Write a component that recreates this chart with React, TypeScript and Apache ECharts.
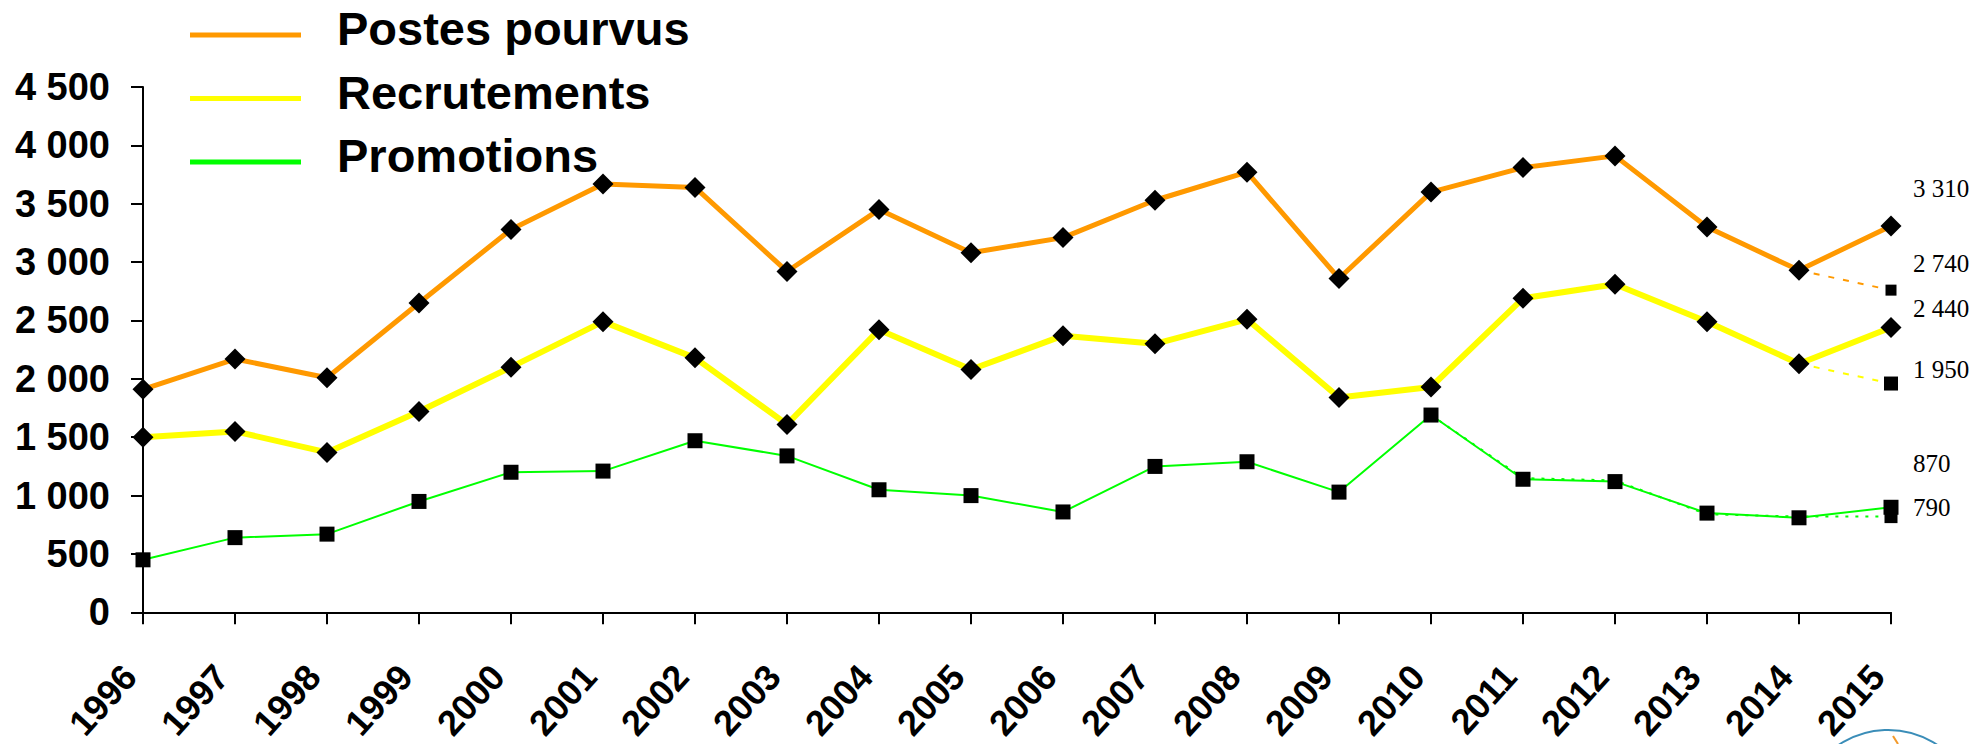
import React, { useEffect, useRef } from "react";
import * as echarts from "echarts";

const years = ["1996", "1997", "1998", "1999", "2000", "2001", "2002", "2003", "2004", "2005", "2006", "2007", "2008", "2009", "2010", "2011", "2012", "2013", "2014", "2015"];
const postesPourvus = [1910, 2170, 2010, 2650, 3280, 3670, 3640, 2920, 3450, 3080, 3210, 3530, 3770, 2860, 3600, 3810, 3910, 3300, 2930, 3310];
const recrutements = [1500, 1550, 1370, 1720, 2100, 2490, 2180, 1610, 2420, 2080, 2370, 2300, 2510, 1840, 1930, 2690, 2810, 2490, 2130, 2440];
const promotions = [450, 640, 670, 950, 1200, 1210, 1470, 1340, 1050, 1000, 860, 1250, 1290, 1030, 1690, 1140, 1120, 850, 810, 900];

const postesProjYears = ["2014", "2015"];
const postesProjValues = [2930, 2760];
const recrutProjYears = ["2014", "2015"];
const recrutProjValues = [2130, 1960];
const promoProjYears = ["2010", "2011", "2012", "2013", "2014", "2015"];
const promoProjValues = [1690, 1150, 1130, 840, 820, 820];

const legendNames = ["Postes pourvus", "Recrutements", "Promotions"];
const legendColors = ["#FF9900", "#FFFF00", "#00FF00"];
const endLabels = ["3 310", "2 740", "2 440", "1 950", "870", "790"];
const yTicks = { min: 0, max: 4500, interval: 500 };

const fmt = (v: number) =>
  v >= 1000 ? `${Math.floor(v / 1000)} ${String(v % 1000).padStart(3, "0")}` : String(v);

function projData(ys: string[], vs: number[], markerSize: number) {
  return years.map((y) => {
    const i = ys.indexOf(y);
    if (i < 0) return null;
    const last = i === ys.length - 1;
    return { value: vs[i], symbol: last ? "rect" : "none", symbolSize: markerSize };
  });
}

export default function App() {
  const ref = useRef<HTMLDivElement>(null);
  useEffect(() => {
    document.body.style.margin = "0";
    if (!ref.current) return;
    const chart = echarts.init(ref.current, undefined, { renderer: "svg" });
    const sans = "'Liberation Sans', Arial, sans-serif";
    const serif = "'Liberation Serif', 'Times New Roman', serif";
    const labelY = [190, 265, 310, 371, 465, 509];
    const legendGraphics: any[] = [];
    legendNames.forEach((name, i) => {
      const cy = 35 + i * 63.5;
      legendGraphics.push({
        type: "rect",
        shape: { x: 190, y: cy - 2.5, width: 111, height: 5 },
        style: { fill: legendColors[i] },
        silent: true,
      });
      legendGraphics.push({
        type: "text",
        x: 337,
        y: cy - 6.5,
        style: {
          text: name,
          font: `bold 47px ${sans}`,
          fill: "#000",
          verticalAlign: "middle",
          align: "left",
        },
        silent: true,
      });
    });
    chart.setOption({
      animation: false,
      backgroundColor: "#ffffff",
      grid: { left: 143, right: 94, top: 87, bottom: 122, containLabel: false },
      xAxis: {
        type: "category",
        data: years,
        boundaryGap: false,
        axisLine: { lineStyle: { color: "#000", width: 2 } },
        axisTick: { show: true, inside: false, length: 12, interval: 0, lineStyle: { color: "#000", width: 2 } },
        axisLabel: {
          interval: 0,
          rotate: 48,
          margin: 43,
          padding: [0, 20, 0, 0],
          fontFamily: sans,
          fontWeight: "bold",
          fontSize: 36,
          color: "#000",
        },
        splitLine: { show: false },
      },
      yAxis: {
        type: "value",
        min: yTicks.min,
        max: yTicks.max,
        interval: yTicks.interval,
        axisLine: { show: true, lineStyle: { color: "#000", width: 2 } },
        axisTick: { show: true, inside: false, length: 12, lineStyle: { color: "#000", width: 2 } },
        axisLabel: {
          margin: 33,
          formatter: fmt,
          fontFamily: sans,
          fontWeight: "bold",
          fontSize: 38,
          color: "#000",
        },
        splitLine: { show: false },
      },
      series: [
        {
          name: "Postes pourvus (proj)",
          type: "line",
          data: projData(postesProjYears, postesProjValues, 11),
          lineStyle: { color: "#FF9900", width: 2, type: [6, 9] },
          itemStyle: { color: "#000" },
          z: 1,
        },
        {
          name: "Recrutements (proj)",
          type: "line",
          data: projData(recrutProjYears, recrutProjValues, 14),
          lineStyle: { color: "#FFFF00", width: 2, type: [6, 9] },
          itemStyle: { color: "#000" },
          z: 1,
        },
        {
          name: "Promotions (proj)",
          type: "line",
          data: projData(promoProjYears, promoProjValues, 13),
          lineStyle: { color: "#00FF00", width: 2, type: [3, 7] },
          itemStyle: { color: "#000" },
          z: 1,
        },
        {
          name: legendNames[0],
          type: "line",
          data: postesPourvus,
          symbol: "diamond",
          symbolSize: 21,
          showAllSymbol: true,
          lineStyle: { color: legendColors[0], width: 5 },
          itemStyle: { color: "#000" },
          z: 3,
        },
        {
          name: legendNames[1],
          type: "line",
          data: recrutements,
          symbol: "diamond",
          symbolSize: 21,
          showAllSymbol: true,
          lineStyle: { color: legendColors[1], width: 6 },
          itemStyle: { color: "#000" },
          z: 3,
        },
        {
          name: legendNames[2],
          type: "line",
          data: promotions,
          symbol: "rect",
          symbolSize: 15,
          showAllSymbol: true,
          lineStyle: { color: legendColors[2], width: 2 },
          itemStyle: { color: "#000" },
          z: 3,
        },
      ],
      graphic: [
        ...legendGraphics,
        ...endLabels.map((t, i) => ({
          type: "text",
          left: 1913,
          top: labelY[i] - 14,
          style: { text: t, font: `25px ${serif}`, fill: "#000" },
        })),
        {
          type: "circle",
          shape: { cx: 1888, cy: 819, r: 89 },
          style: { fill: "none", stroke: "#3A8DB8", lineWidth: 2 },
          silent: true,
        },
        {
          type: "line",
          shape: { x1: 1893, y1: 736, x2: 1898, y2: 744 },
          style: { stroke: "#F39A2B", lineWidth: 2 },
          silent: true,
        },
      ],
    });
    return () => chart.dispose();
  }, []);
  return <div ref={ref} style={{ width: 1985, height: 744 }} />;
}
